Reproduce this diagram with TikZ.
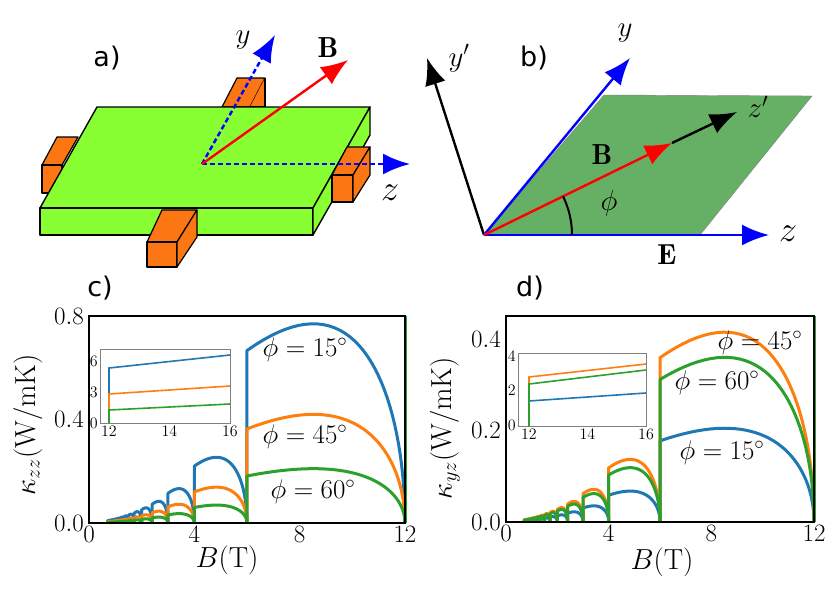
\RequirePackage{fix-cm}
\documentclass[tikz,border=0pt]{standalone}
\usepackage{fontspec}
\newfontfamily\panelfont{DejaVu Sans}
\usetikzlibrary{arrows.meta}
\definecolor{mplBlue}{HTML}{1F77B4}
\definecolor{mplOrange}{HTML}{FF7F0E}
\definecolor{mplGreen}{HTML}{2CA02C}
\definecolor{slabGreen}{RGB}{136,255,51}
\definecolor{tabOrange}{RGB}{252,118,20}
\definecolor{planeGreen}{RGB}{102,176,102}
% one curve of quantum-oscillation domes: #1 x0, #2 y0, #3 px per unit, #4 colour, #5 peak, #6 px per tesla
\newcommand\domecurve[6]{%
  \foreach \n in {1,...,16}{%
    \pgfmathsetmacro\aa{12/(\n+1)}\pgfmathsetmacro\bb{12/\n}%
    \pgfmathsetmacro\pk{#5*pow(\n,-1.6)}%
    \draw[#4, line width=3pt, line join=round]
      ({#1+\aa*#6}, #2) -- plot[domain=0:1, samples=40, variable=\t]
      ({#1+(\aa+(1-(1-\t)^2)*(\bb-\aa))*#6}, {#2-#3*\pk*(1.54+(1-(1-\t)^2))*sqrt(max(0,1-(1-(1-\t)^2)^2))/1.779});
  }}
\tikzset{
  panel/.style={font=\panelfont\fontsize{27}{29}\selectfont},
  tick/.style={font=\fontsize{25}{27}\selectfont, inner sep=2pt},
  smalltick/.style={font=\fontsize{16}{17}\selectfont},
  axlabel/.style={font=\fontsize{29}{31}\selectfont},
  philabel/.style={font=\fontsize{27}{29}\selectfont, inner sep=1pt},
  tab/.style={draw=black, fill=tabOrange, line width=1.2pt, line join=round},
  slab/.style={draw=black, fill=slabGreen, line width=1.4pt, line join=round},
  arr/.style={-{Latex[length=27pt,width=21pt]}, line width=2.4pt},
}
\begin{document}
\begin{tikzpicture}[x=1pt, y=-1pt]
\useasboundingbox (0,0) rectangle (832,589);

% ---- a) sample with contacts
\node[panel] (la) at (107,58) {a)};
\draw[tab] (222,107) -- (237,78) -- (265,78) -- (250,107) -- cycle;
\draw[tab] (265,78) -- (265,107) -- (250,107);
\draw[tab] (42,165) -- (57,137) -- (78,137) -- (62,165) -- cycle;
\draw[tab] (42,165) rectangle (62,193);
\draw[slab] (97,107) -- (370,107) -- (313,208) -- (40,208) -- cycle;
\draw[slab] (40,208) rectangle (313,235);
\draw[slab] (313,208) -- (370,107) -- (370,135) -- (313,235) -- cycle;
\draw[tab] (332,175) -- (347,147) -- (370,147) -- (353,175) -- cycle;
\draw[tab] (332,175) rectangle (353,202);
\draw[tab] (353,175) -- (370,147) -- (370,175) -- (353,202) -- cycle;
\draw[tab] (147,242) -- (162,210) -- (197,210) -- (177,242) -- cycle;
\draw[tab] (147,242) rectangle (177,267);
\draw[tab] (177,242) -- (197,210) -- (197,237) -- (177,267) -- cycle;
\coordinate (oa) at (202,164);
\coordinate (ya) at (275,35);
\coordinate (za) at (410,164);
\coordinate (ba) at (348,60);
\draw[arr, blue, dash pattern=on 5pt off 3pt] (oa) -- (ya);
\draw[arr, blue, dash pattern=on 5pt off 3pt] (oa) -- (za);
\draw[arr, red] (oa) -- (ba);
\node[axlabel] (tya) at (243,40) {$y$};
\node[axlabel] (tba) at (328,48) {$\mathbf{B}$};
\node[font=\fontsize{36}{38}\selectfont] (tza) at (390,193) {$z$};

% ---- b) rotated frame
\node[panel] (lb) at (534,58) {b)};
\coordinate (ob) at (484,235);
\fill[planeGreen, draw=gray] (ob) -- (604,95) -- (812,96) -- (700,235) -- cycle;
\coordinate (ypb) at (427,58);
\coordinate (yb) at (630,58);
\coordinate (zb) at (769,235);
\coordinate (bb) at (672,143);
\coordinate (zpb) at (737,112);
\draw[arr, black] (ob) -- (ypb);
\draw[arr, blue] (ob) -- (yb);
\draw[arr, blue] (ob) -- (zb);
\draw[arr, black] (bb) -- (zpb);
\draw[arr, red] (ob) -- (bb);
\draw[line width=2pt] ([shift={(88,0)}]ob) arc[start angle=0, end angle=-26, radius=88];
\node[axlabel] (typb) at (459,58) {$y'$};
\node[axlabel] (tyb) at (625,33) {$y$};
\node[font=\fontsize{36}{38}\selectfont] (tzb) at (788,234) {$z$};
\node[axlabel] (tzpb) at (758,107) {$z'$};
\node[axlabel] (tbb) at (602,155) {$\mathbf{B}$};
\node[axlabel] (tphb) at (609,203) {$\phi$};
\node[axlabel] (teb) at (667,255) {$\mathbf{E}$};

% ---- c) kappa_zz
\node[panel] (lc) at (100,288) {c)};
\begin{scope}
\clip (89,300) rectangle (407,524);
\domecurve{89}{523}{258.75}{mplBlue}{0.77}{26.33}
\domecurve{89}{523}{258.75}{mplOrange}{0.42}{26.33}
\domecurve{89}{523}{258.75}{mplGreen}{0.21}{26.33}
\end{scope}
\draw[mplGreen, line width=3pt] (405,523) -- (405,316);
\draw[line width=1.2pt] (89,316) rectangle (405,523);
\foreach \v/\t in {0/0.0,0.4/0.4,0.8/0.8}
  \node[tick, anchor=east] (cy\t) at (86,{523-258.75*\v}) {$\t$};
\foreach \b in {0,4,8,12}
  \node[tick, anchor=north] (cx\b) at ({89+26.33*\b},524) {$\b$};
\node[axlabel, rotate=90] (cyl) at (28,425) {$\kappa_{zz}(\mathrm{W/mK})$};
\node[axlabel] (cxl) at (227,560) {$B(\mathrm{T})$};
\node[philabel] (c15) at (305,350) {$\phi=15^\circ$};
\node[philabel] (c45) at (305,437) {$\phi=45^\circ$};
\node[philabel] (c60) at (313,492) {$\phi=60^\circ$};
% inset c
\fill[white] (100,349) rectangle (230,423);
\draw[mplBlue, line width=1.6pt] (109,423) -- (109,368) -- (230,355);
\draw[mplOrange, line width=1.6pt] (109,423) -- (109,394) -- (230,386);
\draw[mplGreen, line width=1.6pt] (109,423) -- (109,410) -- (230,404);
\draw[gray, line width=0.8pt] (100,349) rectangle (230,423);
\foreach \v in {0,3,6}
  \node[smalltick, anchor=east, inner sep=1pt] (ciy\v) at (99,{423-10.3*\v}) {$\v$};
\foreach \b in {12,14,16}
  \node[smalltick, anchor=north, inner sep=2pt] (cix\b) at ({109+30.25*(\b-12)},424) {$\b$};

% ---- d) kappa_yz
\node[panel] (ld) at (530,288) {d)};
\begin{scope}
\clip (506,300) rectangle (816,523);
\domecurve{506}{522}{457.5}{mplBlue}{0.205}{25.67}
\domecurve{506}{522}{457.5}{mplOrange}{0.415}{25.67}
\domecurve{506}{522}{457.5}{mplGreen}{0.36}{25.67}
\end{scope}
\draw[mplGreen, line width=3pt] (814,522) -- (814,316);
\draw[line width=1.2pt] (506,316) rectangle (814,522);
\foreach \v/\t in {0/0.0,0.2/0.2,0.4/0.4}
  \node[tick, anchor=east] (dy\t) at (503,{522-457.5*\v}) {$\t$};
\foreach \b in {0,4,8,12}
  \node[tick, anchor=north] (dx\b) at ({506+25.67*\b},523) {$\b$};
\node[axlabel, rotate=90] (dyl) at (445,428) {$\kappa_{yz}(\mathrm{W/mK})$};
\node[axlabel] (dxl) at (662,562) {$B(\mathrm{T})$};
\node[philabel] (d45) at (760,343) {$\phi=45^\circ$};
\node[philabel] (d60) at (717,383) {$\phi=60^\circ$};
\node[philabel] (d15) at (722,453) {$\phi=15^\circ$};
% inset d
\fill[white] (518,353) rectangle (646,426);
\draw[mplBlue, line width=1.6pt] (529,426) -- (529,401) -- (646,393);
\draw[mplOrange, line width=1.6pt] (529,426) -- (529,377) -- (646,364);
\draw[mplGreen, line width=1.6pt] (529,426) -- (529,384) -- (646,370);
\draw[gray, line width=0.8pt] (518,353) rectangle (646,426);
\foreach \v in {0,2,4}
  \node[smalltick, anchor=east, inner sep=1pt] (diy\v) at (517,{425-17.25*\v}) {$\v$};
\foreach \b in {12,14,16}
  \node[smalltick, anchor=north, inner sep=2pt] (dix\b) at ({529+29.25*(\b-12)},427) {$\b$};
\end{tikzpicture}
\end{document}
